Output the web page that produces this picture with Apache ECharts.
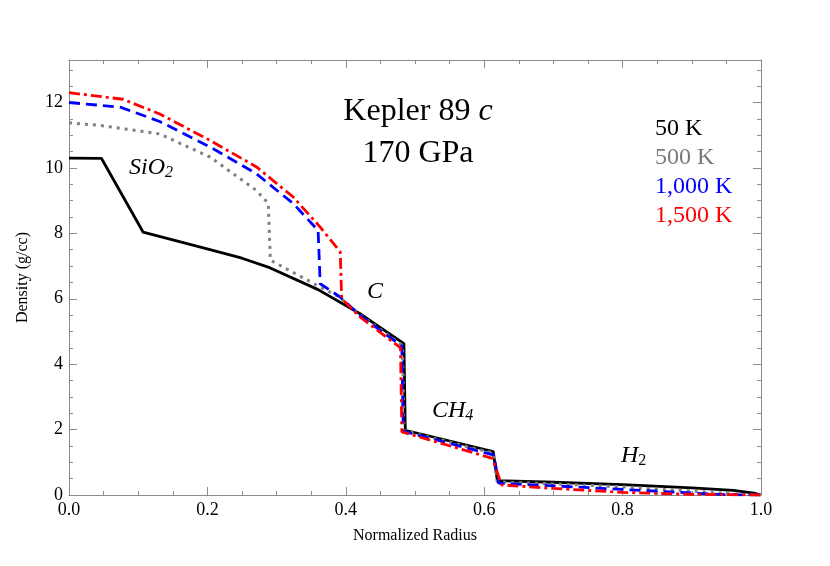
<!DOCTYPE html>
<html>
<head>
<meta charset="utf-8">
<script src="https://cdn.jsdelivr.net/npm/echarts@6/dist/echarts.min.js"></script>
<style>html,body{margin:0;padding:0;background:#fff}#c{width:830px;height:566px}</style>
</head>
<body>
<div id="c"></div>
<script>
// Data (x = normalized radius, y = density g/cc)
var seriesNames = ['50 K', '500 K', '1,000 K', '1,500 K'];
var k50 = [[0,10.3],[0.047,10.29],[0.107,8.04],[0.19,7.58],[0.25,7.24],[0.29,6.95],[0.36,6.28],[0.42,5.55],[0.484,4.63],[0.486,1.98],[0.613,1.33],[0.619,0.44],[0.7,0.39],[0.8,0.32],[0.9,0.22],[0.96,0.14],[0.99,0.06],[1.0,0.0]];
var k500 = [[0,11.38],[0.045,11.3],[0.131,11.04],[0.204,10.33],[0.271,9.31],[0.288,8.91],[0.291,7.18],[0.363,6.36],[0.39,6.06],[0.42,5.52],[0.482,4.57],[0.484,1.97],[0.613,1.28],[0.619,0.4],[0.7,0.34],[0.8,0.25],[0.9,0.12],[0.97,0.02],[1.0,0.0]];
var k1000 = [[0,12.0],[0.074,11.86],[0.131,11.42],[0.204,10.64],[0.271,9.82],[0.324,8.91],[0.36,8.09],[0.363,6.46],[0.392,6.05],[0.42,5.5],[0.481,4.55],[0.483,1.95],[0.614,1.22],[0.621,0.36],[0.7,0.28],[0.8,0.17],[0.9,0.06],[0.95,0.01],[1.0,0.0]];
var k1500 = [[0,12.3],[0.078,12.1],[0.131,11.65],[0.204,10.84],[0.271,10.03],[0.324,9.11],[0.363,8.19],[0.392,7.43],[0.394,6.01],[0.42,5.45],[0.479,4.5],[0.481,1.93],[0.612,1.12],[0.625,0.31],[0.7,0.2],[0.8,0.08],[0.9,0.02],[1.0,0.0]];
var xTicks = [0, 0.2, 0.4, 0.6, 0.8, 1.0];
var yTicks = [0, 2, 4, 6, 8, 10, 12];

var frameColor = '#8c8c8c';
var serif = 'Liberation Serif';

function axisBase(show) {
  return {
    axisLine: {show: true, onZero: false, lineStyle: {color: frameColor, width: 1}},
    axisTick: {show: true, inside: true, length: 8, lineStyle: {color: frameColor}},
    minorTick: {show: true, splitNumber: 4, length: 4, lineStyle: {color: frameColor}},
    splitLine: {show: false},
    axisLabel: {show: show, color: '#000', fontFamily: serif, fontSize: 18}
  };
}

var chart = echarts.init(document.getElementById('c'), null, {renderer: 'canvas'});
var xb = axisBase(true), xt = axisBase(false), yl = axisBase(true), yr = axisBase(false);
var option = {
  animation: false,
  backgroundColor: '#fff',
  grid: {left: 69, right: 69, top: 60, bottom: 71, containLabel: false},
  xAxis: [
    Object.assign(xb, {type: 'value', min: 0, max: 1, interval: 0.2, position: 'bottom',
      name: 'Normalized Radius', nameLocation: 'middle', nameGap: 33,
      nameTextStyle: {fontFamily: serif, fontSize: 16, color: '#000'},
      axisLabel: Object.assign(xb.axisLabel, {margin: 6, formatter: function (v) { return v.toFixed(1); }})}),
    Object.assign(xt, {type: 'value', min: 0, max: 1, interval: 0.2, position: 'top'})
  ],
  yAxis: [
    Object.assign(yl, {type: 'value', min: 0, max: 13.3, interval: 2, position: 'left',
      name: 'Density (g/cc)', nameLocation: 'middle', nameGap: 38,
      nameTextStyle: {fontFamily: serif, fontSize: 16, color: '#000'},
      axisLabel: Object.assign(yl.axisLabel, {margin: 6, showMaxLabel: false})}),
    Object.assign(yr, {type: 'value', min: 0, max: 13.3, interval: 2, position: 'right'})
  ],
  legend: {
    orient: 'vertical', left: 645, top: 112, itemGap: 5, icon: 'none', itemWidth: 0, itemHeight: 0,
    selectedMode: false,
    textStyle: {fontFamily: serif, fontSize: 24},
    data: [
      {name: seriesNames[0], textStyle: {color: '#000000'}},
      {name: seriesNames[1], textStyle: {color: '#7a7a7a'}},
      {name: seriesNames[2], textStyle: {color: '#0000ff'}},
      {name: seriesNames[3], textStyle: {color: '#ff0000'}}
    ]
  },
  title: {
    text: '{n|Kepler 89 }{i|c}\n{n|170 GPa}',
    left: 413, top: 86, textAlign: 'center',
    textStyle: {
      fontWeight: 'normal',
      rich: {
        n: {fontFamily: serif, fontSize: 32, fontWeight: 'normal', color: '#000', lineHeight: 42},
        i: {fontFamily: serif, fontSize: 32, fontWeight: 'normal', fontStyle: 'italic', color: '#000', lineHeight: 42}
      }
    }
  },
  graphic: [
    {type: 'text', left: 129, top: 156, style: {rich: {
      a: {fontFamily: serif, fontSize: 24, fontStyle: 'italic', fill: '#000'},
      s: {fontFamily: serif, fontSize: 16, fontStyle: 'italic', fill: '#000', padding: [10, 0, 0, 0]}
    }, text: '{a|SiO}{s|2}'}},
    {type: 'text', left: 367, top: 280, style: {text: 'C', fontFamily: serif, fontSize: 24, fontStyle: 'italic', fill: '#000'}},
    {type: 'text', left: 432, top: 399, style: {rich: {
      a: {fontFamily: serif, fontSize: 24, fontStyle: 'italic', fill: '#000'},
      s: {fontFamily: serif, fontSize: 16, fontStyle: 'italic', fill: '#000', padding: [10, 0, 0, 0]}
    }, text: '{a|CH}{s|4}'}},
    {type: 'text', left: 621, top: 444, style: {rich: {
      a: {fontFamily: serif, fontSize: 24, fontStyle: 'italic', fill: '#000'},
      s: {fontFamily: serif, fontSize: 16, fontStyle: 'normal', fill: '#000', padding: [10, 0, 0, 0]}
    }, text: '{a|H}{s|2}'}}
  ],
  series: [
    {name: seriesNames[0], type: 'line', data: k50, showSymbol: false, symbol: 'none',
     lineStyle: {color: '#000000', width: 2.8, type: 'solid'}, itemStyle: {color: '#000'}, z: 2},
    {name: seriesNames[1], type: 'line', data: k500, showSymbol: false, symbol: 'none',
     lineStyle: {color: '#808080', width: 3, type: [3, 5]}, itemStyle: {color: '#808080'}, z: 3},
    {name: seriesNames[2], type: 'line', data: k1000, showSymbol: false, symbol: 'none',
     lineStyle: {color: '#0000ff', width: 2.8, type: [11, 6]}, itemStyle: {color: '#0000ff'}, z: 4},
    {name: seriesNames[3], type: 'line', data: k1500, showSymbol: false, symbol: 'none',
     lineStyle: {color: '#ff0000', width: 2.8, type: [11, 4, 3, 4]}, itemStyle: {color: '#ff0000'}, z: 5}
  ]
};
chart.setOption(option);
</script>
</body>
</html>
